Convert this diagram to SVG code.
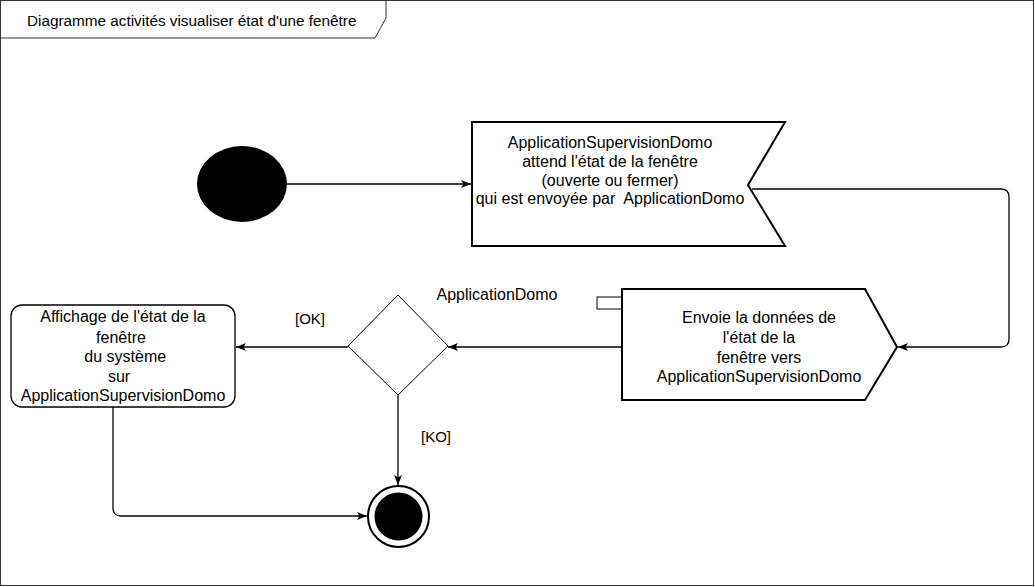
<svg xmlns="http://www.w3.org/2000/svg" width="1035" height="587" viewBox="0 0 1035 587">
<style>
text{font-family:"Liberation Sans",Arial,sans-serif;font-size:16px;fill:#000;text-anchor:middle;white-space:pre}
.t{font-size:15.3px;text-anchor:start}
.shape{fill:#fff;stroke:#000;stroke-width:2}
.thin{fill:#fff;stroke:#000;stroke-width:1}
.edge{fill:none;stroke:#000;stroke-width:1.3}
</style>
<defs>
<marker id="arr" viewBox="0 0 10 10" refX="10" refY="5" markerWidth="10" markerHeight="10" markerUnits="userSpaceOnUse" orient="auto">
<path d="M0,1 L10,5 L0,9 L2.5,5 Z" fill="#000"/>
</marker>
</defs>
<rect x="0" y="0" width="1035" height="587" fill="#fff"/>
<g id="frame">
<rect x="0.5" y="0.5" width="1033" height="585" fill="none" stroke="#333" stroke-width="1"/>
<path d="M0.5,38 L375,38 L386,18 L386,0.5" fill="none" stroke="#333" stroke-width="1"/>
<text class="t" x="27" y="26">Diagramme activités visualiser état d'une fenêtre</text>
</g>
<g id="edges">
<path class="edge" d="M287,184 L471,184" marker-end="url(#arr)"/>
<path class="edge" d="M752,189 L1001,189 Q1009,189 1009,197 L1009,339 Q1009,347 1001,347 L898,347" marker-end="url(#arr)"/>
<path class="edge" d="M622,347 L448,347" marker-end="url(#arr)"/>
<path class="edge" d="M348,347 L236,347" marker-end="url(#arr)"/>
<path class="edge" d="M398,395 L398,485" marker-end="url(#arr)"/>
<path class="edge" d="M113,407 L113,508 Q113,516 121,516 L367,516" marker-end="url(#arr)"/>
</g>
<g id="start">
<ellipse cx="242" cy="184" rx="45" ry="38" fill="#000"/>
</g>
<g id="receive">
<path class="shape" d="M472,122 L785,122 L748,185 L785,246 L472,246 Z"/>
<text x="610" y="148">ApplicationSupervisionDomo</text>
<text x="610" y="167">attend l'état de la fenêtre</text>
<text x="610" y="186">(ouverte ou fermer)</text>
<text x="610" y="204" xml:space="preserve">qui est envoyée par  ApplicationDomo</text>
</g>
<g id="send">
<rect class="thin" x="597" y="297" width="25" height="12"/>
<path class="shape" d="M622,289 L865,289 L897,347 L865,400 L622,400 Z"/>
<text x="759" y="323">Envoie la données de</text>
<text x="759" y="343">l'état de la</text>
<text x="759" y="363">fenêtre vers</text>
<text x="759" y="382">ApplicationSupervisionDomo</text>
</g>
<g id="label-domo">
<text x="497" y="300">ApplicationDomo</text>
</g>
<g id="decision">
<path class="thin" d="M398,295 L448,346 L398,395 L348,346 Z"/>
<text x="310" y="324" style="font-size:15px">[OK]</text>
<text x="436" y="442" style="font-size:15px">[KO]</text>
</g>
<g id="display">
<rect x="11" y="305" width="224" height="102" rx="11" ry="11" fill="#fff" stroke="#000" stroke-width="1.3"/>
<text x="123" y="322">Affichage de l'état de la</text>
<text x="121" y="343">fenêtre</text>
<text x="123" y="362" xml:space="preserve"> du système</text>
<text x="119" y="382">sur</text>
<text x="123" y="401">ApplicationSupervisionDomo</text>
</g>
<g id="end">
<circle cx="398.5" cy="516.5" r="30.5" fill="#fff" stroke="#000" stroke-width="2"/>
<circle cx="398.5" cy="516.5" r="24" fill="#000"/>
</g>
</svg>
